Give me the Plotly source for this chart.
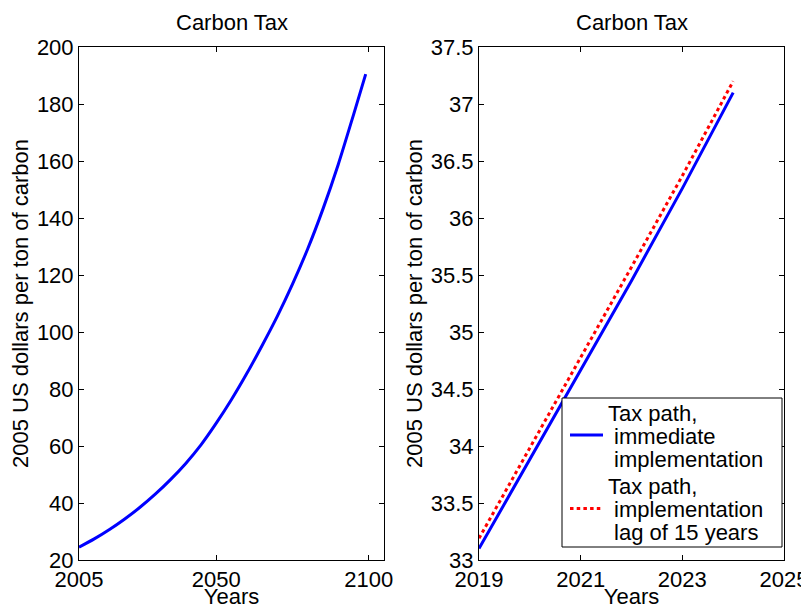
import plotly.graph_objects as go
from plotly.subplots import make_subplots

# ---- data ----
years_long = [2005, 2010, 2015, 2020, 2025, 2030, 2035, 2040, 2045, 2050,
              2055, 2060, 2065, 2070, 2075, 2080, 2085, 2090, 2095, 2099]
tax_long = [24.5, 27.4, 30.7, 34.4, 38.5, 43.1, 48.2, 53.9, 60.4, 68.0,
            76.3, 85.4, 95.2, 105.5, 116.8, 129.2, 143.2, 158.8, 176.2, 190.5]

years_short = [2019, 2020, 2021, 2022, 2023, 2024]
tax_immediate = [33.10, 33.88, 34.66, 35.45, 36.26, 37.10]
tax_lag = [33.19, 33.98, 34.77, 35.57, 36.37, 37.20]

left_xticks = [2005, 2050, 2100]
left_yticks = [20, 40, 60, 80, 100, 120, 140, 160, 180, 200]
right_xticks = [2019, 2021, 2023, 2025]
right_yticks = [33, 33.5, 34, 34.5, 35, 35.5, 36, 36.5, 37, 37.5]
right_yticktext = ["33", "33.5", "34", "34.5", "35", "35.5", "36", "36.5", "37", "37.5"]

title_text = "Carbon Tax"
xlabel = "Years"
ylabel = "2005 US dollars per ton of carbon"
legend_lines_1 = ["Tax path,", "\u00a0immediate", "\u00a0implementation"]
legend_lines_2 = ["Tax path,", "\u00a0implementation", "\u00a0lag of 15 years"]

BLUE = "#0000ff"
RED = "#ff0000"
FONT = "Liberation Sans, Arial, Helvetica, sans-serif"
FS = 22

# page body has an 8px margin, so the figure is laid out 8px in from the window corner
OFF = 8
W, H = 809 - OFF, 609 - OFF
AX_L, AX_R1, AX_L2, AX_R, AX_T, AX_B = 79, 384, 479, 784, 47, 560   # window pixels
ML = AX_L - OFF
MT = AX_T - OFF
MR = W - (AX_R - OFF)
MB = H - (AX_B - OFF)
plot_w = W - ML - MR
left_end = (AX_R1 - AX_L) / plot_w
right_start = (AX_L2 - AX_L) / plot_w

fig = make_subplots(rows=1, cols=2, horizontal_spacing=right_start - left_end)

fig.add_trace(go.Scatter(x=years_long, y=tax_long, mode="lines",
                         line=dict(color=BLUE, width=3, shape="spline", smoothing=0.8),
                         showlegend=False), row=1, col=1)
fig.add_trace(go.Scatter(x=years_short, y=tax_immediate, mode="lines", line=dict(color=BLUE, width=3),
                         showlegend=False), row=1, col=2)
fig.add_trace(go.Scatter(x=years_short, y=tax_lag, mode="lines",
                         line=dict(color=RED, width=3, dash="3.5px,3.2px"),
                         showlegend=False), row=1, col=2)

axis_common = dict(showline=True, linecolor="black", linewidth=1, mirror="ticks", ticks="inside",
                   ticklen=5, tickwidth=1, tickcolor="black", showgrid=False, zeroline=False,
                   tickfont=dict(family=FONT, size=FS, color="black"))

fig.update_xaxes(**axis_common)
fig.update_yaxes(**axis_common)

title_font = dict(family=FONT, size=FS, color="black")
fig.update_layout(
    xaxis=dict(domain=[0, left_end], range=[2005, 2105], tickvals=left_xticks,
               title=dict(text=xlabel, font=title_font, standoff=8)),
    yaxis=dict(range=[20, 200], tickvals=left_yticks,
               title=dict(text=ylabel, font=title_font, standoff=2)),
    xaxis2=dict(domain=[right_start, 1], range=[2019, 2025], tickvals=right_xticks,
                title=dict(text=xlabel, font=title_font, standoff=8)),
    yaxis2=dict(range=[33, 37.5], tickvals=right_yticks, ticktext=right_yticktext,
                title=dict(text=ylabel, font=title_font, standoff=2)),
    width=W, height=H,
    margin=dict(l=ML, r=MR, t=MT, b=MB, autoexpand=False),
    paper_bgcolor="white", plot_bgcolor="white",
    font=dict(family=FONT, size=FS, color="black"),
)

# subplot titles
for xr in ["x domain", "x2 domain"]:
    fig.add_annotation(text=title_text, xref=xr, yref="y domain", x=0.5, y=1, yshift=25,
                       xanchor="center", yanchor="middle", showarrow=False, font=title_font)

# legend (drawn in right axes domain coordinates)
ax_w = float(AX_R - AX_L2)
ax_h = float(AX_B - AX_T)
def dx(px):
    return (px - AX_L2) / ax_w
def dy(py):
    return (AX_B - py) / ax_h

fig.add_shape(type="rect", xref="x2 domain", yref="y2 domain",
              x0=dx(562), x1=dx(782), y0=dy(547), y1=dy(398),
              line=dict(color="black", width=1), fillcolor="white", layer="above")
fig.add_shape(type="line", xref="x2 domain", yref="y2 domain",
              x0=dx(570), x1=dx(603), y0=dy(435), y1=dy(435),
              line=dict(color=BLUE, width=3), layer="above")
fig.add_shape(type="line", xref="x2 domain", yref="y2 domain",
              x0=dx(570), x1=dx(603), y0=dy(508.5), y1=dy(508.5),
              line=dict(color=RED, width=3, dash="3.5px,3.2px"), layer="above")

line_y1 = [413.3, 436.7, 459.0]
line_y2 = [486.7, 509.5, 532.0]
for lines, ys in [(legend_lines_1, line_y1), (legend_lines_2, line_y2)]:
    for t, py in zip(lines, ys):
        fig.add_annotation(text=t, xref="x2 domain", yref="y2 domain", x=dx(606), y=dy(py),
                           xanchor="left", yanchor="middle", showarrow=False, font=title_font)

fig.write_html("out.html")
